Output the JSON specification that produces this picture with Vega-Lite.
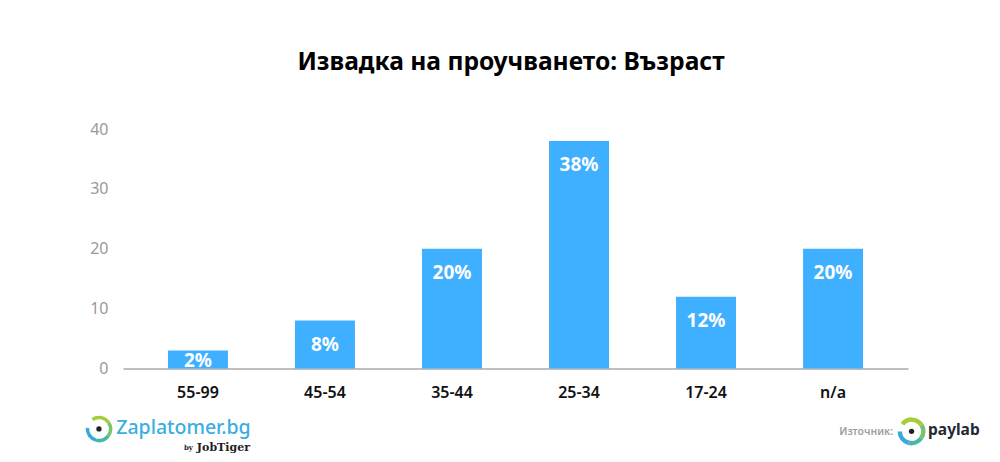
{
"$schema":"https://vega.github.io/schema/vega-lite/v6.json",
"width":785,"height":239.5,
"autosize":"none",
"padding":{"left":123,"top":129,"right":92,"bottom":93.5},
"background":"#ffffff",
"title":{"text":"Извадка на проучването: Възраст","font":"Noto Sans","fontWeight":"bold","fontSize":24.6,"color":"#000000","anchor":"middle","dx":-4.5,"offset":26,"baseline":"alphabetic"},
"config":{"view":{"stroke":null},"font":"Noto Sans"},
"datasets":{
"ages":[
{"age":"55-99","value":3,"label":"2%"},
{"age":"45-54","value":8,"label":"8%"},
{"age":"35-44","value":20,"label":"20%"},
{"age":"25-34","value":38,"label":"38%"},
{"age":"17-24","value":12,"label":"12%"},
{"age":"n/a","value":20,"label":"20%"}]
},
"layer":[
{"data":{"name":"ages"},"mark":{"type":"bar","color":"#3fafff"},
 "encoding":{
 "x":{"field":"age","type":"nominal","sort":null,"title":null,
 "scale":{"paddingInner":0.528,"paddingOuter":0.354},
 "axis":{"labelAngle":0,"ticks":false,"domainColor":"#aaaaaa","domainWidth":1.5,"labelColor":"#111111","labelFont":"Noto Sans","labelFontSize":16,"labelFontWeight":600,"labelPadding":16,"grid":false}},
 "y":{"field":"value","type":"quantitative","title":null,
 "scale":{"domain":[0,40],"nice":false},
 "axis":{"values":[0,10,20,30,40],"domain":false,"ticks":false,"grid":false,"labelColor":"#999999","labelFont":"Noto Sans","labelFontSize":16,"labelFontWeight":400,"labelPadding":15}}
 }},
{"data":{"name":"ages"},"transform":[{"filter":"datum.value >= 5"}],
 "mark":{"type":"text","color":"#ffffff","font":"Noto Sans","fontWeight":"bold","fontSize":19,"baseline":"middle","dy":24},
 "encoding":{"x":{"field":"age","type":"nominal","sort":null},"y":{"field":"value","type":"quantitative"},"text":{"field":"label"}}},
{"data":{"name":"ages"},"transform":[{"filter":"datum.value < 5"}],
 "mark":{"type":"text","color":"#ffffff","font":"Noto Sans","fontWeight":"bold","fontSize":19,"baseline":"middle","dy":10},
 "encoding":{"x":{"field":"age","type":"nominal","sort":null},"y":{"field":"value","type":"quantitative"},"text":{"field":"label"}}},
{"data":{"values":[{"t":"Zaplatomer.bg"}]},
 "mark":{"type":"text","color":"#3aaee0","font":"Noto Sans","fontSize":19.5,"fontWeight":500,"align":"center","baseline":"middle","dx":-14.5},
 "encoding":{"x":{"datum":"55-99"},"y":{"datum":-10},"text":{"field":"t"}}},
{"data":{"values":[{"t":"JobTiger"}]},
 "mark":{"type":"text","color":"#222222","font":"DejaVu Serif","fontSize":11,"fontWeight":"bold","align":"right","baseline":"middle","dx":52},
 "encoding":{"x":{"datum":"55-99"},"y":{"datum":-13.2},"text":{"field":"t"}}},
{"data":{"values":[{"t":"by"}]},
 "mark":{"type":"text","color":"#222222","font":"DejaVu Serif","fontSize":7,"fontWeight":"bold","align":"right","baseline":"middle","dx":-5},
 "encoding":{"x":{"datum":"55-99"},"y":{"datum":-13.2},"text":{"field":"t"}}},
{"data":{"values":[{"t":"Източник:"}]},
 "mark":{"type":"text","color":"#a0a0a0","font":"Noto Sans","fontSize":10.5,"fontWeight":600,"align":"right","baseline":"middle","dx":60},
 "encoding":{"x":{"datum":"n/a"},"y":{"datum":-10.6},"text":{"field":"t"}}},
{"data":{"values":[{"t":"paylab"}]},
 "mark":{"type":"text","color":"#222a33","font":"Noto Sans","fontSize":15.5,"fontWeight":"bold","align":"left","baseline":"middle","dx":95},
 "encoding":{"x":{"datum":"n/a"},"y":{"datum":-10.3},"text":{"field":"t"}}},
{"data":{"values":[{"k":"dot"}]},
 "mark":{"type":"point","filled":true,"opacity":1,"color":"#222222","size":28,"xOffset":-99},
 "encoding":{"x":{"datum":"55-99"},"y":{"datum":-10.1}}},
{"data":{"values":[{"k":"dot"}]},
 "mark":{"type":"point","filled":true,"opacity":1,"color":"#222222","size":28,"xOffset":78.5},
 "encoding":{"x":{"datum":"n/a"},"y":{"datum":-10.5}}},
{"data":{"values":[{"k":"a"}]},"mark":{"type":"arc","color":"#a5cf3a","radius":13.3,"radius2":9.8,"theta":-0.6,"theta2":1.0,"xOffset":-99},"encoding":{"x":{"datum":"55-99"},"y":{"datum":-10.1}}},
{"data":{"values":[{"k":"b"}]},"mark":{"type":"arc","color":"#78c46c","radius":13.3,"radius2":9.8,"theta":1.0,"theta2":2.2,"xOffset":-99},"encoding":{"x":{"datum":"55-99"},"y":{"datum":-10.1}}},
{"data":{"values":[{"k":"c"}]},"mark":{"type":"arc","color":"#45b8a8","radius":13.3,"radius2":9.8,"theta":2.2,"theta2":3.4,"xOffset":-99},"encoding":{"x":{"datum":"55-99"},"y":{"datum":-10.1}}},
{"data":{"values":[{"k":"d"}]},"mark":{"type":"arc","color":"#3aa8dc","radius":13.3,"radius2":9.8,"theta":3.4,"theta2":4.8,"xOffset":-99},"encoding":{"x":{"datum":"55-99"},"y":{"datum":-10.1}}},
{"data":{"values":[{"k":"a"}]},"mark":{"type":"arc","color":"#a5cf3a","radius":14,"radius2":9.5,"theta":-0.9,"theta2":1.0,"xOffset":78.5},"encoding":{"x":{"datum":"n/a"},"y":{"datum":-10.5}}},
{"data":{"values":[{"k":"b"}]},"mark":{"type":"arc","color":"#78c46c","radius":14,"radius2":9.5,"theta":1.0,"theta2":2.2,"xOffset":78.5},"encoding":{"x":{"datum":"n/a"},"y":{"datum":-10.5}}},
{"data":{"values":[{"k":"c"}]},"mark":{"type":"arc","color":"#45b8a8","radius":14,"radius2":9.5,"theta":2.2,"theta2":3.4,"xOffset":78.5},"encoding":{"x":{"datum":"n/a"},"y":{"datum":-10.5}}},
{"data":{"values":[{"k":"d"}]},"mark":{"type":"arc","color":"#3aa8dc","radius":14,"radius2":9.5,"theta":3.4,"theta2":4.7,"xOffset":78.5},"encoding":{"x":{"datum":"n/a"},"y":{"datum":-10.5}}}
]
}
